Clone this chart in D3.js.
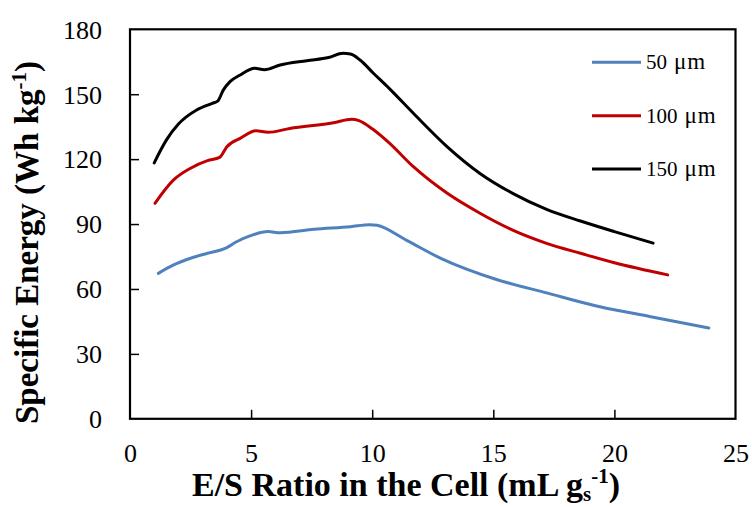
<!DOCTYPE html>
<html><head><meta charset="utf-8">
<script src="https://cdn.jsdelivr.net/npm/d3@7"></script>
<style>html,body{margin:0;padding:0;background:#fff;}svg{display:block;}</style>
</head><body>
<svg id="chart" width="752" height="507"></svg>
<script>
const seriesNums = ["50", "100", "150"];
const seriesUnit = "\u03bcm";
const seriesColors = ["#4f81bd", "#c00000", "#000000"];

const es50 = [1.17,1.8,2.5,3.2,4.0,4.4,4.95,5.7,6.2,7.6,9.1,9.9,10.2,11.4,12.9,15.1,17.2,19.4,21.5,23.9];
const se50 = [67.2,71.1,74.2,76.5,79.1,81.8,84.5,86.5,86.0,87.6,88.8,89.7,89.4,82.6,73.8,64.5,58.2,51.8,47.2,42.0];

const es100 = [1.03,1.8,2.5,3.2,3.7,4.0,4.55,5.2,5.7,6.6,8.4,9.15,9.45,10.0,10.7,11.7,13.1,14.45,15.8,17.2,18.6,20.0,22.2];
const se100 = [99.6,110.4,115.8,119.3,120.8,125.7,129.6,133.1,132.4,134.2,136.8,138.4,137.8,134.0,127.5,116.5,104.2,95.0,87.2,81.1,76.5,72.1,66.5];

const es150 = [1.0,1.5,2.0,2.75,3.4,3.62,3.85,4.13,4.55,5.15,5.55,6.2,7.3,8.2,8.8,9.1,9.5,10.05,10.7,11.7,13.1,14.45,15.8,17.2,18.6,20.0,21.6];
const se150 = [118.3,128.8,136.2,142.7,145.8,146.8,151.9,155.8,158.9,162.0,161.3,163.5,165.5,167.0,168.9,168.6,165.8,159.7,152.7,141.2,125.7,113.4,104.2,96.8,91.4,86.5,81.2];

const xTicks = [0,5,10,15,20,25];
const yTicks = [0,30,60,90,120,150,180];

const series = [
  {num: seriesNums[0], color: seriesColors[0], pts: es50.map((x,i)=>[x, se50[i]])},
  {num: seriesNums[1], color: seriesColors[1], pts: es100.map((x,i)=>[x, se100[i]])},
  {num: seriesNums[2], color: seriesColors[2], pts: es150.map((x,i)=>[x, se150[i]])}
];

const L = 130, R = 735.5, T = 29.3, B = 418.8;
const svg = d3.select("#chart");
const x = d3.scaleLinear().domain([0,25]).range([L,R]);
const y = d3.scaleLinear().domain([0,180]).range([B,T]);
const serif = "'Liberation Serif','Times New Roman',serif";

const xAxis = d3.axisBottom(x).tickValues(xTicks).tickSize(-9).tickPadding(0).tickFormat(d3.format("d"));
const gx = svg.append("g").attr("transform", `translate(0,${B})`).call(xAxis);
gx.select(".domain").remove();
gx.selectAll(".tick line").attr("stroke","#000").attr("stroke-width",1.5)
  .filter(d => d===0 || d===25).remove();
gx.selectAll(".tick text").attr("font-family", serif).attr("font-size", 26).attr("fill","#000")
  .attr("y", 43).attr("dy", 0);

const yAxis = d3.axisLeft(y).tickValues(yTicks).tickSize(-9).tickPadding(0).tickFormat(d3.format("d"));
const gy = svg.append("g").attr("transform", `translate(${L},0)`).call(yAxis);
gy.select(".domain").remove();
gy.selectAll(".tick line").attr("stroke","#000").attr("stroke-width",1.5)
  .filter(d => d===0 || d===180).remove();
gy.selectAll(".tick text").attr("font-family", serif).attr("font-size", 26).attr("fill","#000")
  .attr("x", -28).attr("dy", "0.34em").attr("text-anchor","end");

svg.append("rect").attr("x", L).attr("y", T).attr("width", R-L).attr("height", B-T)
  .attr("fill","none").attr("stroke","#000").attr("stroke-width",2.2);

const line = d3.line().x(d => x(d[0])).y(d => y(d[1])).curve(d3.curveMonotoneX);
svg.append("g").selectAll("path").data(series).join("path")
  .attr("d", d => line(d.pts)).attr("fill","none")
  .attr("stroke", d => d.color).attr("stroke-width", 3).attr("stroke-linejoin","round").attr("stroke-linecap","round");

const legY = [62.3, 115.7, 169];
const lg = svg.append("g").selectAll("g").data(series).join("g")
  .attr("transform", (d,i) => `translate(0,${legY[i]})`);
lg.append("line").attr("x1", 592).attr("x2", 641).attr("y1",0).attr("y2",0)
  .attr("stroke", d => d.color).attr("stroke-width", 3);
const lt = lg.append("text").attr("x", 646).attr("dy","0.34em").attr("font-family", serif).attr("font-size", 21)
  .attr("fill","#000");
lt.append("tspan").text(d => d.num);
lt.append("tspan").attr("dx", 7).attr("font-size", 23).attr("letter-spacing", 0.8).text(seriesUnit);

const xt = svg.append("text").attr("x", 406).attr("y", 496).attr("text-anchor","middle")
  .attr("font-family", serif).attr("font-size", 34).attr("font-weight","bold").attr("fill","#000");
xt.append("tspan").text("E/S Ratio in the Cell (mL g");
xt.append("tspan").attr("font-size", 21).attr("dy", 5).text("s");
xt.append("tspan").attr("font-size", 21).attr("dy", -18).text("-1");
xt.append("tspan").attr("dy", 13).text(")");

const yt = svg.append("text").attr("transform", "translate(38,242.5) rotate(-90)").attr("text-anchor","middle")
  .attr("font-family", serif).attr("font-size", 33).attr("font-weight","bold").attr("fill","#000");
yt.append("tspan").text("Specific Energy (Wh kg");
yt.append("tspan").attr("font-size", 21).attr("dy", -12).text("-1");
yt.append("tspan").attr("dy", 12).text(")");
</script>
</body></html>
